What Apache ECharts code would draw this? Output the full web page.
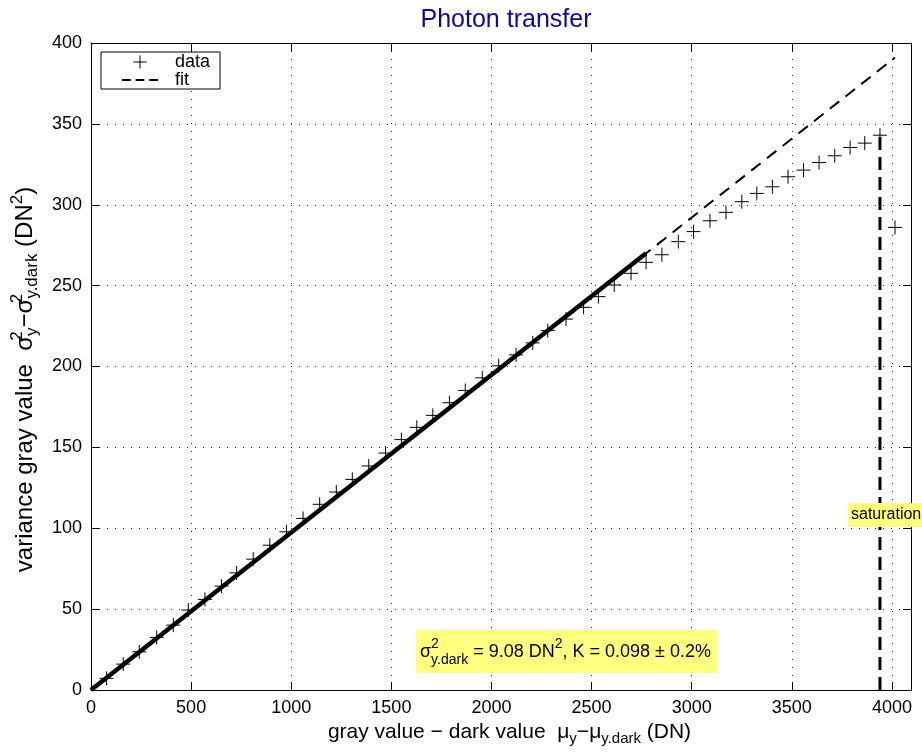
<!DOCTYPE html>
<html>
<head>
<meta charset="utf-8">
<script src="https://cdn.jsdelivr.net/npm/echarts@6/dist/echarts.min.js"></script>
<style>
html,body{margin:0;padding:0;background:#fff;}
#main{width:922px;height:754px;}
</style>
</head>
<body>
<div id="main"></div>
<script>
// ---- data ----
const dataX = [78,161,241,328,411,486,569,652,727,810,893,976,1059,1142,1225,1305,1387,1471,1550,1627,1707,1790,1869,1954,2036,2123,2206,2281,2372,2460,2534,2613,2697,2772,2851,2933,3009,3091,3171,3250,3325,3403,3481,3558,3636,3714,3791,3864,3940,4015];
const dataY = [7.2,16.0,23.6,32.5,40.1,49.4,56.0,64.2,72.4,80.9,89.5,97.8,106.1,114.8,122.4,130.2,138.5,146.5,154.8,162.4,169.8,177.6,185.2,193.0,200.4,207.2,214.6,222.2,229.3,236.6,243.2,250.4,257.6,264.4,269.1,277.2,283.4,290.1,295.3,301.9,307.0,311.1,317.3,321.4,326.1,330.3,335.4,338.1,343.0,286.0];
const fitX = [0, 4015];
const fitY = [0, 391];
const fitRangeX = [0, 2772];
const fitRangeY = [0, 270];
const satX = [3940, 3940];
const satY = [0, 343];
const xTicks = [0,500,1000,1500,2000,2500,3000,3500,4000];
const yTicks = [0,50,100,150,200,250,300,350,400];
const xMax = 4095, yMax = 400;

const FONT = '"Liberation Sans", Arial, Helvetica, sans-serif';
const pairs = (xs, ys) => xs.map((x, i) => [x, ys[i]]);

const chart = echarts.init(document.getElementById('main'), null, {renderer: 'canvas'});

const crossPath = 'path://M0,6L12,6M6,0L6,12';
const dashPath = 'path://M0,0L9,0L9,2L0,2Z M14,0L23,0L23,2L14,2Z M28,0L37,0L37,2L28,2Z';
const gridLine = {show: true, lineStyle: {color: '#222', width: 1, type: [1, 7]}};
function rich(big, small, lh) {
  return {
    n: {fontSize: big, fontFamily: FONT, color: '#000', lineHeight: lh, verticalAlign: 'middle'},
    sub: {fontSize: small, fontFamily: FONT, color: '#000', lineHeight: small, verticalAlign: 'bottom'},
    sup: {fontSize: small, fontFamily: FONT, color: '#000', lineHeight: small, verticalAlign: 'top', width: 0},
    supl: {fontSize: small, fontFamily: FONT, color: '#000', lineHeight: small, verticalAlign: 'top'}
  };
}

const option = {
  backgroundColor: '#fff',
  animation: false,
  title: {
    text: 'Photon transfer',
    left: 501, top: 3, textAlign: 'center',
    textStyle: {fontFamily: FONT, fontSize: 25, fontWeight: 'normal', color: '#0a0a9c'}
  },
  legend: {
    left: 101, top: 52, orient: 'vertical',
    backgroundColor: '#fff', borderColor: '#000', borderWidth: 1,
    padding: [1, 10, 0, 21], itemGap: 0, itemWidth: 36, itemHeight: 13,
    textStyle: {fontFamily: FONT, fontSize: 18, color: '#000', padding: [0, 0, 0, 12]},
    data: [
      {name: 'data', icon: crossPath, itemStyle: {color: 'transparent', borderColor: '#000', borderWidth: 1}},
      {name: 'fit', icon: dashPath, itemStyle: {color: '#000', borderWidth: 0}}
    ]
  },
  grid: {left: 91, right: 11, top: 43, bottom: 64, containLabel: false},
  xAxis: [{
    type: 'value', min: 0, max: xMax, interval: 500, position: 'bottom',
    axisLine: {show: true, onZero: false, lineStyle: {color: '#000', width: 1}},
    axisTick: {show: true, inside: true, length: 8, lineStyle: {color: '#000'}},
    axisLabel: {show: true, margin: 9, fontFamily: FONT, fontSize: 18, color: '#000', showMaxLabel: false,
      formatter: v => xTicks.indexOf(v) >= 0 ? String(v) : ''},
    splitLine: gridLine,
    name: '{n|gray value − dark value  μ}{sub|y}{n|−μ}{sub|y.dark}{n| (DN)}',
    nameLocation: 'middle', nameGap: 22,
    nameTextStyle: {rich: rich(21, 15, 28), padding: [0, 0, 0, 17]}
  }, {
    type: 'value', min: 0, max: xMax, interval: 500, position: 'top',
    axisLine: {show: true, onZero: false, lineStyle: {color: '#000', width: 1}},
    axisTick: {show: true, inside: true, length: 8, lineStyle: {color: '#000'}},
    axisLabel: {show: false}, splitLine: {show: false}
  }],
  yAxis: [{
    type: 'value', min: 0, max: yMax, interval: 50, position: 'left',
    axisLine: {show: true, onZero: false, lineStyle: {color: '#000', width: 1}},
    axisTick: {show: true, inside: true, length: 8, lineStyle: {color: '#000'}},
    axisLabel: {show: true, margin: 9, fontFamily: FONT, fontSize: 18, color: '#000',
      formatter: v => yTicks.indexOf(v) >= 0 ? String(v) : ''},
    splitLine: gridLine,
    name: '{n|variance gray value  σ}{sup|2}{sub|y}{n|−σ}{sup|2}{sub|y.dark}{n| (DN}{supl|2}{n|)}',
    nameLocation: 'middle', nameGap: 45, nameRotate: 90,
    nameTextStyle: {rich: rich(24, 17, 32), padding: [0, 26, 0, 0]}
  }, {
    type: 'value', min: 0, max: yMax, interval: 50, position: 'right',
    axisLine: {show: true, onZero: false, lineStyle: {color: '#000', width: 1}},
    axisTick: {show: true, inside: true, length: 8, lineStyle: {color: '#000'}},
    axisLabel: {show: false}, splitLine: {show: false}
  }],
  series: [
    {
      name: 'fit', type: 'line', data: pairs(fitX, fitY), symbol: 'none',
      lineStyle: {color: '#000', width: 2, type: [12, 8]}, itemStyle: {color: '#000'}, z: 2
    },
    {
      name: 'fitrange', type: 'line', data: pairs(fitRangeX, fitRangeY), symbol: 'none',
      lineStyle: {color: '#000', width: 4.5}, z: 3
    },
    {
      name: 'saturation', type: 'line', data: pairs(satX, satY), symbol: 'none',
      lineStyle: {color: '#000', width: 3, type: [13, 7]}, z: 3
    },
    {
      name: 'data', type: 'scatter', data: pairs(dataX, dataY),
      symbol: crossPath, symbolSize: 14, symbolKeepAspect: true,
      itemStyle: {color: 'transparent', borderColor: '#000', borderWidth: 1, opacity: 1}, z: 4
    }
  ],
  graphic: [
    {
      type: 'text', left: 416, top: 630, z: 10,
      style: {
        text: '{n|σ}{sup|2}{sub|y.dark}{n| = 9.08 DN}{supl|2}{n|, K = 0.098 ± 0.2%}',
        backgroundColor: '#ffff80', padding: [7, 6, 6, 4],
        rich: {
          n: {fontSize: 18, fontFamily: FONT, fill: '#000', lineHeight: 30, verticalAlign: 'middle'},
          sub: {fontSize: 14, fontFamily: FONT, fill: '#000', lineHeight: 14, verticalAlign: 'bottom'},
          sup: {fontSize: 14, fontFamily: FONT, fill: '#000', lineHeight: 14, verticalAlign: 'top', width: 0},
          supl: {fontSize: 14, fontFamily: FONT, fill: '#000', lineHeight: 14, verticalAlign: 'top'}
        }
      }
    },
    {
      type: 'text', left: 848, top: 503, z: 10,
      style: {
        text: 'saturation', font: '16px ' + FONT, fill: '#000',
        backgroundColor: '#ffff80', padding: [4, 6, 4, 3]
      }
    }
  ]
};
chart.setOption(option);
</script>
</body>
</html>
